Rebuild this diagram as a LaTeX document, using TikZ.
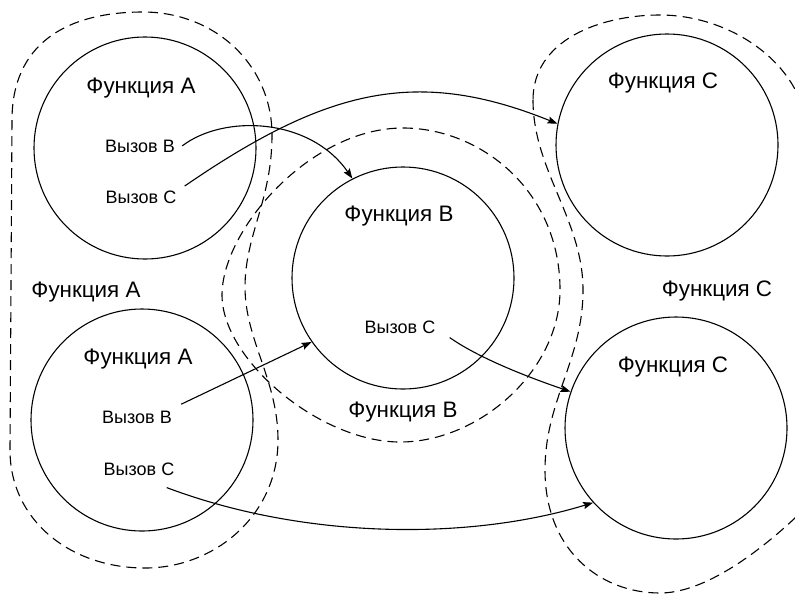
\documentclass[tikz,border=0pt]{standalone}
\usepackage{fontspec}
\setmainfont{Liberation Sans}
\usetikzlibrary{arrows.meta}

\begin{document}
\begin{tikzpicture}[x=0.5pt,y=-0.5pt,
  func/.style={circle,draw,line width=0.55pt,minimum size=111pt,inner sep=0pt},
  ftitle/.style={font=\fontsize{11.2pt}{13pt}\selectfont,anchor=base,inner sep=0pt},
  fcall/.style={font=\fontsize{9pt}{11pt}\selectfont,anchor=base,inner sep=2pt},
  scopeline/.style={dash pattern=on 5pt off 3pt,line width=0.55pt},
  callarrow/.style={line width=0.55pt,-{Stealth[length=5pt,width=3.6pt,inset=0.8pt]}}]

\useasboundingbox (0,0) rectangle (795,594);
\clip (0,0) rectangle (795,594);

% scope of function A (both instances)
\draw[scopeline] (10,450) -- (12,120)
  .. controls (12,45) and (65,12) .. (143,12)
  .. controls (215,12) and (272,65) .. (272,135)
  .. controls (272,200) and (245,235) .. (245,287)
  .. controls (245,340) and (278,380) .. (278,440)
  .. controls (278,515) and (215,568) .. (145,568)
  .. controls (70,568) and (10,520) .. (10,450) -- cycle;

% scope of function B
\draw[scopeline] (403,128)
  .. controls (480,128) and (560,190) .. (560,290)
  .. controls (560,370) and (480,442) .. (400,442)
  .. controls (320,442) and (222,360) .. (222,295)
  .. controls (222,230) and (310,128) .. (403,128) -- cycle;

% scope of function C (both instances)
\draw[scopeline] (533,100)
  .. controls (533,170) and (583,220) .. (583,290)
  .. controls (583,360) and (545,400) .. (545,470)
  .. controls (545,550) and (600,593) .. (660,593)
  .. controls (700,593) and (750,560) .. (795,518)
  .. controls (840,440) and (840,160) .. (800,100)
  .. controls (780,50) and (720,15) .. (660,15)
  .. controls (600,15) and (533,40) .. (533,100) -- cycle;

% function instances
\node[func] (tlA) at (145,148) {};
\node[func] (blA) at (142,420) {};
\node[func] (fB)  at (403,278) {};
\node[func] (trC) at (667,145) {};
\node[func] (brC) at (676,428) {};

% titles
\node[ftitle] (tlAt) at (141,93)  {Функция A};
\node[ftitle] (blAt) at (138,364) {Функция A};
\node[ftitle] (fBt)  at (399,221) {Функция B};
\node[ftitle] (trCt) at (663,88)  {Функция C};
\node[ftitle] (brCt) at (673,372) {Функция C};

% scope labels
\node[ftitle] (sA) at (86,297)  {Функция A};
\node[ftitle] (sB) at (403,417) {Функция B};
\node[ftitle] (sC) at (717,296) {Функция C};

% calls
\node[fcall] (tlB) at (140,152) {Вызов B};
\node[fcall] (tlC) at (141,203) {Вызов C};
\node[fcall] (blB) at (137,423) {Вызов B};
\node[fcall] (blC) at (139,475) {Вызов C};
\node[fcall] (bC)  at (400,333) {Вызов C};

% call arrows
\draw[callarrow] ([xshift=1.5pt]tlB.east) .. controls +(42,-32) and +(-42,-61) .. (fB.117);
\draw[callarrow] ([xshift=2pt]tlC.north east) .. controls +(144,-99) and +(-139,-56) .. (trC.169);
\draw[callarrow] ([xshift=2.5pt,yshift=1pt]blB.north east) -- (fB.215);
\draw[callarrow] ([xshift=5pt]bC.south east) .. controls +(30,21) and +(-41,-14) .. (brC.161);
\draw[callarrow] ([xshift=-6pt,yshift=-4pt]blC.south east) .. controls +(138,52) and +(-124,38) .. (brC.222);

\end{tikzpicture}
\end{document}
